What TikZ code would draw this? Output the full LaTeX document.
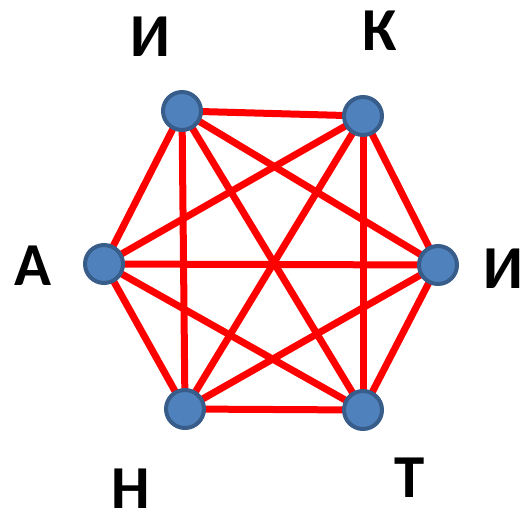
\documentclass[tikz,border=0pt]{standalone}
\usepackage{fontspec}
\setmainfont{Carlito}
\tikzset{
  vertex/.style={circle,draw=vborder,fill=vfill,line width=4pt,minimum size=38pt,inner sep=0pt},
  edge/.style={draw=red,line width=7pt},
  letter/.style={font=\fontsize{61}{61}\selectfont\bfseries,inner sep=0pt}
}
\definecolor{vfill}{HTML}{4F81BD}
\definecolor{vborder}{HTML}{385D8A}
\begin{document}
\begin{tikzpicture}[x=1pt,y=-1pt]
\useasboundingbox (0,0) rectangle (521,516);
% vertices
\coordinate (i1) at (182,111);
\coordinate (k) at (363,116);
\coordinate (a) at (104,264);
\coordinate (i2) at (438,265);
\coordinate (n) at (185,409);
\coordinate (t) at (363,410);
% edges
\foreach \u/\v in {i1/k,i1/a,i1/i2,i1/n,i1/t,k/a,k/i2,k/n,k/t,a/i2,a/n,a/t,i2/n,i2/t,n/t}
  \draw[edge] (\u) -- (\v);
\foreach \p in {i1,k,a,i2,n,t}
  \node[vertex] (v\p) at (\p) {};
% labels
\node[letter] (li1) at (150,37) {И};
\node[letter] (lk) at (380,31) {К};
\node[letter] (la) at (33,266) {А};
\node[letter] (li2) at (503,269) {И};
\node[letter] (ln) at (131,489) {Н};
\node[letter] (lt) at (410,478) {Т};
\end{tikzpicture}
\end{document}
